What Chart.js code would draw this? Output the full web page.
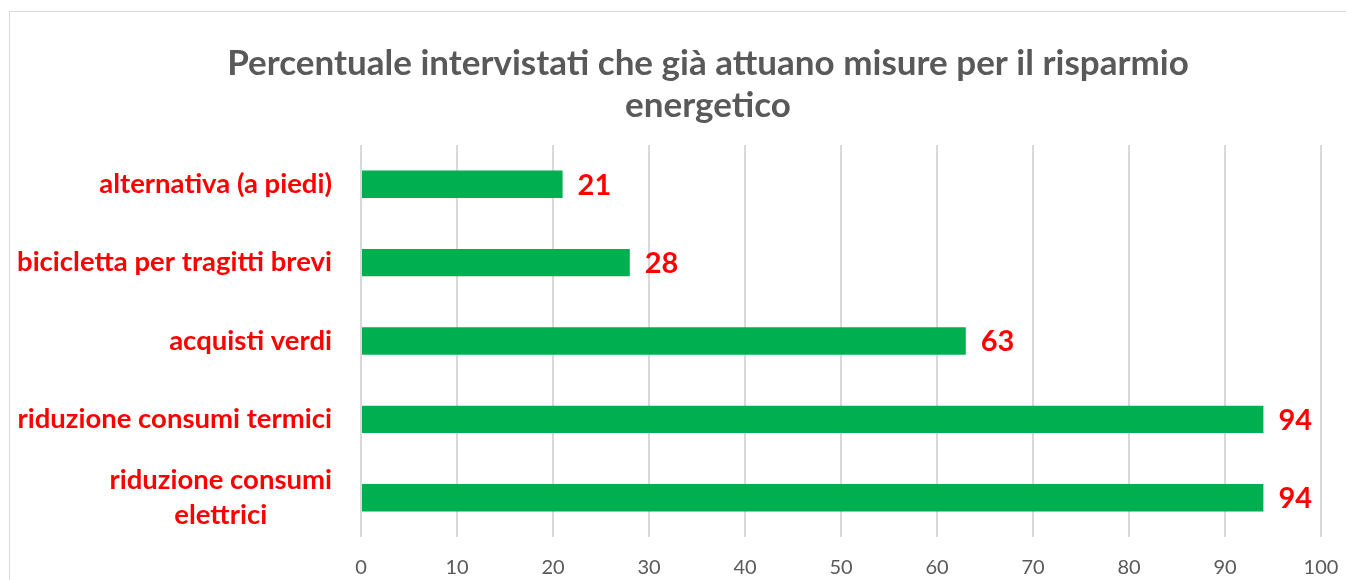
<!DOCTYPE html>
<html lang="it">
<head>
  <meta charset="UTF-8" />
  <title>Percentuale intervistati - risparmio energetico</title>
  <script src="https://cdn.jsdelivr.net/npm/chart.js"></script>
  <style>
    html, body {
      margin: 0;
      padding: 0;
      background: white;
      overflow: hidden;
      width: 1346px;
      height: 580px;
    }

    #frame {
      position: absolute;
      left: 9px;
      top: 11px;
      width: 1396px;
      height: 600px;
      border: 1px solid #d9d9d9;
      background: white;
    }
  </style>
</head>
<body>
  <div id="frame">
    <canvas id="chart"></canvas>
  </div>

  <script>
    const categories = [
      "alternativa (a piedi)",
      ["bicicletta per tragitti brevi"],
      "acquisti verdi",
      "riduzione consumi termici",
      ["riduzione consumi", "elettrici"]
    ];
    const values = [21, 28, 63, 94, 94];
    const xTicks = [0, 10, 20, 30, 40, 50, 60, 70, 80, 90, 100];
    const titleLines = ["Percentuale intervistati che già attuano misure per il risparmio", "energetico"];

    const RED = "#ff0000";
    const GRAY = "#595959";
    const FONT = "Lato, 'Liberation Sans', sans-serif";

    // category names left of the axis, multi-line ones centred on their own block
    const categoryLabels = {
      id: "categoryLabels",
      afterDraw(chart) {
        const ctx = chart.ctx;
        const y = chart.scales.y;
        ctx.save();
        ctx.font = "bold 27.5px " + FONT;
        ctx.fillStyle = RED;
        ctx.textBaseline = "middle";
        ctx.textAlign = "center";
        const right = y.right - 29;
        const lh = 35;
        chart.data.labels.forEach((lab, i) => {
          const lines = Array.isArray(lab) ? lab : [lab];
          const w = Math.max(...lines.map(l => ctx.measureText(l).width));
          const cx = right - w / 2;
          const cy = y.getPixelForValue(i);
          const start = cy - (lines.length - 1) * lh / 2;
          lines.forEach((l, k) => ctx.fillText(l, cx, start + k * lh));
        });
        ctx.restore();
      }
    };

    // value labels at the end of each bar
    const valueLabels = {
      id: "valueLabels",
      afterDatasetsDraw(chart) {
        const ctx = chart.ctx;
        const meta = chart.getDatasetMeta(0);
        ctx.save();
        ctx.font = "bold 29px " + FONT;
        ctx.fillStyle = RED;
        ctx.textAlign = "left";
        ctx.textBaseline = "middle";
        meta.data.forEach((bar, i) => {
          ctx.fillText(String(values[i]), bar.x + 15, bar.y + 1);
        });
        ctx.restore();
      }
    };

    new Chart(document.getElementById("chart"), {
      type: "bar",
      data: {
        labels: categories,
        datasets: [{
          data: values,
          backgroundColor: "#00b050",
          borderWidth: 0,
          categoryPercentage: 1,
          barPercentage: 0.35
        }]
      },
      options: {
        indexAxis: "y",
        responsive: true,
        maintainAspectRatio: false,
        animation: false,
        layout: { padding: { left: 85, right: 85, top: 0, bottom: 0 } },
        plugins: {
          legend: { display: false },
          tooltip: { enabled: false },
          title: {
            display: true,
            text: titleLines,
            color: GRAY,
            font: { family: FONT, size: 35, weight: "bold", lineHeight: 1.2 },
            padding: { top: 31, bottom: 18 }
          }
        },
        scales: {
          x: {
            min: 0,
            max: 100,
            afterBuildTicks(scale) {
              scale.ticks = xTicks.map(v => ({ value: v }));
            },
            afterFit(scale) { scale.height = 75; },
            grid: { color: "#d9d9d9", lineWidth: 2, drawTicks: false },
            border: { display: false },
            ticks: { color: GRAY, padding: 19, font: { family: FONT, size: 20 } }
          },
          y: {
            afterFit(scale) { scale.width = 266; },
            grid: { display: false },
            border: { display: false },
            ticks: { display: false }
          }
        }
      },
      plugins: [valueLabels, categoryLabels]
    });
  </script>
</body>
</html>
